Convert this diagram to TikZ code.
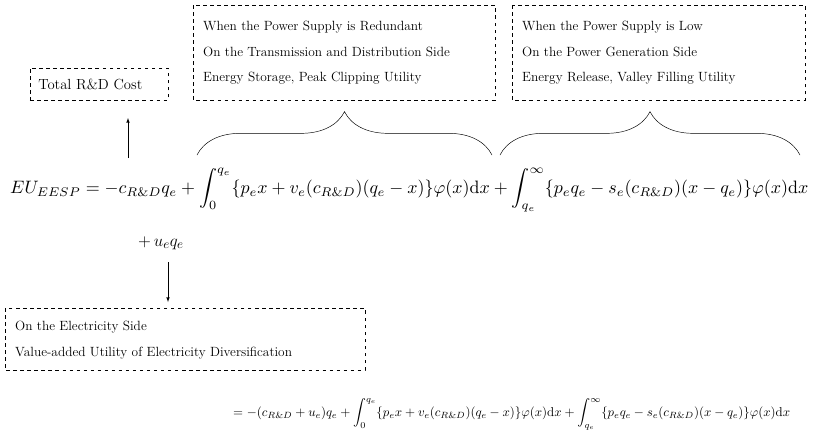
\documentclass[tikz,border=0pt]{standalone}
\usepackage{amsmath}
\usetikzlibrary{decorations.pathreplacing}

\begin{document}
\begin{tikzpicture}[x=0.03cm,y=-0.03cm]
\tikzset{box/.style = {draw,dashed,thick,inner sep=0pt}}
\tikzset{line/.style = {font=\fontsize{11.4}{20}\selectfont,anchor=west}}
\tikzset{brc/.style = {decorate,decoration={brace,amplitude=1.3cm},thin}}
\useasboundingbox (0,0) rectangle (814,437);

% boxes
\node[box,minimum width=4.14cm,minimum height=0.96cm] (cost) at (99,84) {};
\node[line,font=\fontsize{12.5}{20}\selectfont] (costt) at (cost.west) [xshift=4pt] {Total R\&D Cost};
\draw[box] (193,5) rectangle (495,100);
\node[line] (r1) at (199,27) {When the Power Supply is Redundant};
\node[line] (r2) at (199,52) {On the Transmission and Distribution Side};
\node[line] (r3) at (199,78) {Energy Storage, Peak Clipping Utility};
\draw[box] (512,5) rectangle (805,100);
\node[line] (l1) at (518,27) {When the Power Supply is Low};
\node[line] (l2) at (518,52) {On the Power Generation Side};
\node[line] (l3) at (518,78) {Energy Release, Valley Filling Utility};
\draw[box] (5,308) rectangle (365,370);
\node[line] (e1) at (11,327) {On the Electricity Side};
\node[line] (e2) at (11,353) {Value-added Utility of Electricity Diversification};

% braces
\coordinate (b1a) at (197,155); \coordinate (b1b) at (492,155);
\coordinate (b2a) at (500,155); \coordinate (b2b) at (800,155);
\draw[brc] (b1a) -- (b1b);
\draw[brc] (b2a) -- (b2b);

% equations
\node[anchor=west,inner sep=0pt] (eq) at (10,190) {\resizebox{23.94cm}{!}{$EU_{EESP}=-c_{R\&D}q_e+\displaystyle\int_0^{q_e}\{p_ex+v_e(c_{R\&D})(q_e-x)\}\varphi(x)\mathrm{d}x+\int_{q_e}^{\infty}\{p_eq_e-s_e(c_{R\&D})(x-q_e)\}\varphi(x)\mathrm{d}x$}};
\node[anchor=west,inner sep=0pt] (ue) at (138,243) {\fontsize{15}{18}\selectfont$+\,u_eq_e$};
\node[anchor=west,inner sep=0pt] (eq2) at (233,414) {\resizebox{16.71cm}{!}{$=-(c_{R\&D}+u_e)q_e+\displaystyle\int_0^{q_e}\{p_ex+v_e(c_{R\&D})(q_e-x)\}\varphi(x)\mathrm{d}x+\int_{q_e}^{\infty}\{p_eq_e-s_e(c_{R\&D})(x-q_e)\}\varphi(x)\mathrm{d}x$}};

% arrows
\coordinate (up0) at (128,158); \coordinate (up1) at (128,118);
\draw[-latex] (up0) -- (up1);
\coordinate (dn0) at (168,262); \coordinate (dn1) at (168,302);
\draw[-latex] (dn0) -- (dn1);
\end{tikzpicture}
\end{document}
